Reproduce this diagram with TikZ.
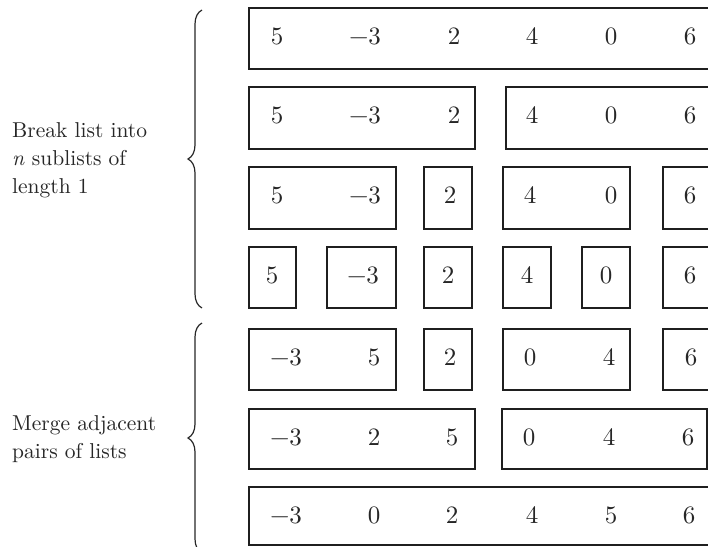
\documentclass[tikz,border=0pt]{standalone}
\usepackage{fontspec}
\setmainfont{lmroman10-regular.otf}[ItalicFont=lmroman10-italic.otf]
\usetikzlibrary{decorations.pathreplacing}
\newcommand\boxat[5]{\node[lbox,minimum width={#3pt-#2pt},minimum height={#5pt-#4pt}] (#1) at ({(#2+#3)/2},{(#4+#5)/2}) {};}
\begin{document}
\begin{tikzpicture}[x=1pt,y=-1pt,
  lbox/.style={draw=black!88,line width=1.3pt,inner sep=0pt,outer sep=0pt},
  num/.style={font=\fontsize{25}{25}\selectfont,inner sep=0pt,anchor=base,text=black!85},
  lbl/.style={font=\fontsize{21.5}{28}\selectfont,align=left,inner sep=0pt,anchor=north west,text=black!85},
  brc/.style={decorate,decoration={brace,amplitude=14pt},line width=1.2pt,draw=black!85}]
\useasboundingbox (0,0) rectangle (708,546);
\clip (0,0) rectangle (708,546);
% row 1
\boxat{r1a}{249}{712}{8}{69}
\node[num] (n11) at (277,44.5) {5};
\node[num] (n12) at (365,44.5) {−3};
\node[num] (n13) at (454,44.5) {2};
\node[num] (n14) at (532,44.5) {4};
\node[num] (n15) at (611,44.5) {0};
\node[num] (n16) at (690,44.5) {6};
% row 2
\boxat{r2a}{249}{475}{87}{149}
\boxat{r2b}{506}{712}{87}{149}
\node[num] (n21) at (277,123.5) {5};
\node[num] (n22) at (365,123.5) {−3};
\node[num] (n23) at (454,123.5) {2};
\node[num] (n24) at (532,123.5) {4};
\node[num] (n25) at (611,123.5) {0};
\node[num] (n26) at (690,123.5) {6};
% row 3
\boxat{r3a}{249}{396}{167}{229}
\boxat{r3b}{424}{472}{167}{229}
\boxat{r3c}{503}{630}{167}{229}
\boxat{r3d}{663}{712}{167}{229}
\node[num] (n31) at (277,203.5) {5};
\node[num] (n32) at (365,203.5) {−3};
\node[num] (n33) at (450,203.5) {2};
\node[num] (n34) at (530,203.5) {4};
\node[num] (n35) at (611,203.5) {0};
\node[num] (n36) at (690,203.5) {6};
% row 4
\boxat{r4a}{249}{296}{247}{308}
\boxat{r4b}{327}{396}{247}{308}
\boxat{r4c}{424}{472}{247}{308}
\boxat{r4d}{503}{551}{247}{308}
\boxat{r4e}{582}{630}{247}{308}
\boxat{r4f}{663}{712}{247}{308}
\node[num] (n41) at (272,283.5) {5};
\node[num] (n42) at (363,283.5) {−3};
\node[num] (n43) at (448,283.5) {2};
\node[num] (n44) at (527,283.5) {4};
\node[num] (n45) at (606,283.5) {0};
\node[num] (n46) at (690,283.5) {6};
% row 5
\boxat{r5a}{249}{396}{329}{390}
\boxat{r5b}{424}{472}{329}{390}
\boxat{r5c}{503}{630}{329}{390}
\boxat{r5d}{663}{712}{329}{390}
\node[num] (n51) at (286,365.5) {−3};
\node[num] (n52) at (374,365.5) {5};
\node[num] (n53) at (450,365.5) {2};
\node[num] (n54) at (530,365.5) {0};
\node[num] (n55) at (609,365.5) {4};
\node[num] (n56) at (691,365.5) {6};
% row 6
\boxat{r6a}{249}{475}{409}{469}
\boxat{r6b}{502}{707}{409}{469}
\node[num] (n61) at (286,445.5) {−3};
\node[num] (n62) at (374,445.5) {2};
\node[num] (n63) at (452,445.5) {5};
\node[num] (n64) at (529,445.5) {0};
\node[num] (n65) at (609,445.5) {4};
\node[num] (n66) at (688,445.5) {6};
% row 7
\boxat{r7a}{249}{712}{487}{545}
\node[num] (n71) at (286,523.5) {−3};
\node[num] (n72) at (374,523.5) {0};
\node[num] (n73) at (452,523.5) {2};
\node[num] (n74) at (532,523.5) {4};
\node[num] (n75) at (611,523.5) {5};
\node[num] (n76) at (689,523.5) {6};
% labels
\node[lbl] (t1) at (12,122) {Break list into\\\textit{n} sublists of\\length 1};
\node[lbl] (t2) at (12,415) {Merge adjacent\\pairs of lists};
% braces
\coordinate (b1s) at (202,308);
\coordinate (b1e) at (202,10);
\coordinate (b2s) at (202,553);
\coordinate (b2e) at (202,323);
\draw[brc] (b1s) -- (b1e);
\draw[brc] (b2s) -- (b2e);
\end{tikzpicture}
\end{document}
